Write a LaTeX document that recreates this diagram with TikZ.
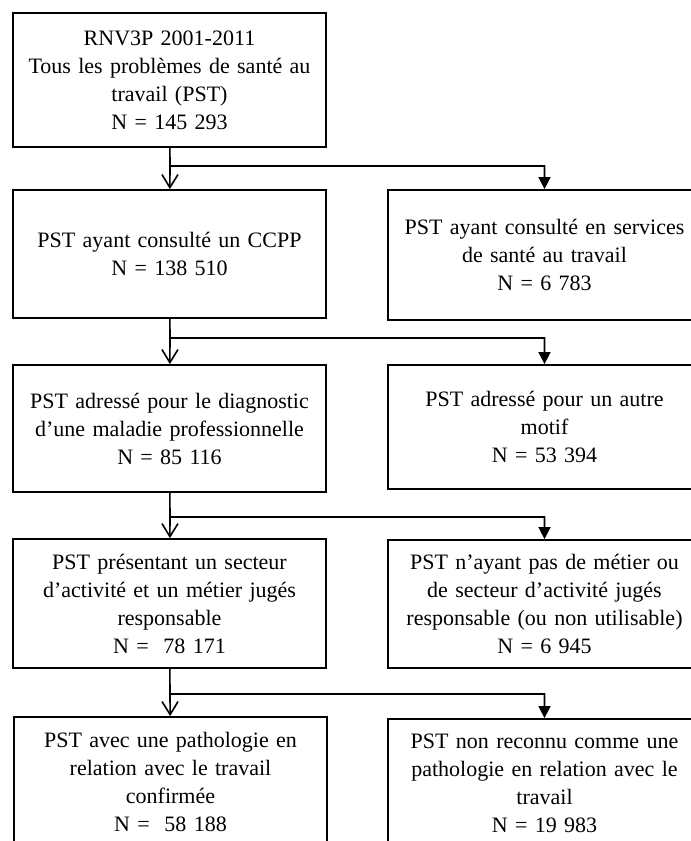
\documentclass[tikz,border=0pt]{standalone}
\usepackage{fontspec}
\setmainfont{Liberation Serif}
\usetikzlibrary{arrows.meta}

\begin{document}
\begin{tikzpicture}[x=1pt,y=-1pt,
  boite/.style={draw, line width=1.8pt, minimum width=313pt, text width=300pt,
    inner sep=0pt, align=center, font=\fontsize{22}{28}\selectfont},
  lien/.style={line width=1.6pt},
  fleche/.style={lien, -{Straight Barb[length=13pt,width=16pt,line width=1.6pt]}},
  flechepleine/.style={lien, -{Triangle[length=12pt,width=12pt]}}]

% Cadre
\path[use as bounding box] (0,0) rectangle (691,841);
\clip (0,0) rectangle (691,841);

% Boites de gauche
\node[boite, minimum height=134pt] (rnv) at (169.5,80)
  {RNV3P 2001-2011\\Tous les problèmes de santé au\\travail (PST)\\N = 145 293};
\node[boite, minimum height=128pt] (ccpp) at (169.5,254)
  {PST ayant consulté un CCPP\\N = 138 510};
\node[boite, minimum height=127pt] (diag) at (169.5,428.5)
  {PST adressé pour le diagnostic\\d’une maladie professionnelle\\N = 85 116};
\node[boite, minimum height=129pt] (metier) at (169.5,603.5)
  {PST présentant un secteur\\d’activité et un métier jugés\\responsable\\N =~ 78 171};
\node[boite, minimum height=129pt] (confirme) at (170.5,781.5)
  {PST avec une pathologie en\\relation avec le travail\\confirmée\\N =~ 58 188};

% Boites de droite
\node[boite, minimum height=130pt] (sst) at (544.5,255)
  {PST ayant consulté en services\\de santé au travail\\N = 6 783};
\node[boite, minimum height=124pt] (autre) at (544.5,427)
  {PST adressé pour un autre\\motif\\N = 53 394};
\node[boite, minimum height=128pt] (nonmetier) at (544.5,604)
  {PST n’ayant pas de métier ou\\de secteur d’activité jugés\\responsable (ou non utilisable)\\N = 6 945};
\node[boite, minimum height=129pt] (nonreconnu) at (544.5,783.5)
  {PST non reconnu comme une\\pathologie en relation avec le\\travail\\N = 19 983};

% Embranchements
\coordinate (b1) at (170,166);
\coordinate (b2) at (170,338);
\coordinate (b3) at (170,517);
\coordinate (b4) at (170,694);

\draw[flechepleine] (rnv) -- (b1) -| (sst);
\draw[fleche] (b1) -- (ccpp);

\draw[flechepleine] (ccpp) -- (b2) -| (autre);
\draw[fleche] (b2) -- (diag);

\draw[flechepleine] (diag) -- (b3) -| (nonmetier);
\draw[fleche] (b3) -- (metier);

\draw[flechepleine] (metier) -- (b4) -| (nonreconnu);
\draw[fleche] (b4) -- (confirme);

\end{tikzpicture}
\end{document}
